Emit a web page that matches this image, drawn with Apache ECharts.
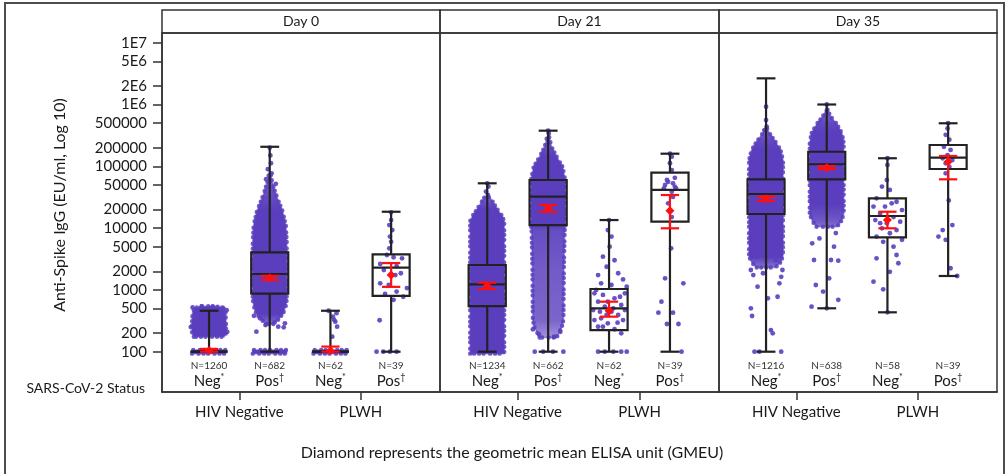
<!DOCTYPE html>
<html><head><meta charset="utf-8">
<script src="https://cdn.jsdelivr.net/npm/echarts@6/dist/echarts.min.js"></script>
<style>html,body{margin:0;padding:0;background:#fff}#c{width:1008px;height:474px}</style>
</head><body><div id="c"></div>
<script>
// ---------------- data ----------------
const days = ['Day 0', 'Day 21', 'Day 35'];
const hivGroups = ['HIV Negative', 'PLWH'];
const statusText = ['Neg', 'Pos', 'Neg', 'Pos'];
const statusMark = ['*', '\u2020', '*', '\u2020'];
const nDay0 = [1260, 682, 62, 39];
const nDay21 = [1234, 662, 62, 39];
const nDay35 = [1216, 638, 58, 39];

// [lower whisker, Q1, median, Q3, upper whisker]
const boxDay0 = [[100,100,100,100,460],[100,870,1810,4050,207000],[100,100,100,100,460],[100,800,2300,3750,18400]];
const boxDay21 = [[100,548,1233,2530,53100],[100,11200,32200,60000,377000],[100,224,504,1035,13500],[100,12700,41400,78800,160000]];
const boxDay35 = [[100,16900,35600,61600,2650000],[504,61600,108000,172000,1000000],[434,7100,15700,30300,135000],[1680,90400,138000,221000,497000]];

// [GMEU, 95% CI low, 95% CI high]
const gmDay0 = [[105,100,111],[1560,1440,1690],[104,100,121],[1740,1120,2720]];
const gmDay21 = [[1165,1035,1310],[20900,18400,23700],[460,369,645],[19100,9930,34300]];
const gmDay35 = [[29800,27500,32200],[94900,90000,101000],[13500,9930,18400],[118000,61600,147000]];

// dense point clouds: [value, relative spread, density]; null separates pieces
const cloudDay0 = [
  [[174,0.9,1],[200,1,1],[300,1,1],[430,0.97,1],[510,0.85,1],[545,0.4,1], null, [93,1,1],[107,1,1]],
  [[93,1,1],[107,1,1], null, [280,0.2,0.7],[330,0.5,0.85],[420,0.8,1],[560,0.95,1],[700,1,1],[6000,1,1],[11000,0.95,1],[19000,0.75,1],[28000,0.5,0.95],[40000,0.3,0.9],[55000,0.15,0.85],[75000,0.05,0.8]],
  [[93,1,1],[107,1,1]],
  []
];
const cloudDay21 = [
  [[93,1,1],[13000,1,1],[16000,0.85,1],[20000,0.6,1],[26000,0.35,0.9],[32000,0.15,0.8]],
  [[170,0.5,0.55],[250,0.8,0.7],[330,0.9,0.8],[2000,0.92,0.85],[9000,0.97,0.92],[11200,1,1],[60000,1,1],[98000,0.85,1],[143000,0.5,1],[207000,0.2,0.9],[300000,0.06,0.8]],
  [],
  []
];
const cloudDay35 = [
  [[2300,0.55,0.7],[2800,0.85,0.85],[3500,1,1],[126000,1,1],[184000,0.85,1],[250000,0.55,0.95],[342000,0.2,0.85],[420000,0.05,0.8]],
  [[10500,0.6,0.7],[13000,0.85,0.85],[17000,1,0.92],[25000,1,1],[236000,1,1],[342000,0.9,1],[500000,0.55,0.95],[630000,0.25,0.85],[800000,0.06,0.8]],
  [],
  []
];

// individual subjects: [jitter offset, value]
const ptsDay0 = [
  [[-0.27,520],[-0.12,540],[0.06,530],[0.22,515],[0.29,470],[-0.3,250],[0.3,210]],
  [[0,200000],[0.01,150000],[0.02,112000],[-0.03,90000],[0.03,77000],[-0.06,62000],[0.1,52000],[-0.22,211],[-0.07,270],[0.14,254],[0.25,288],[0.16,418],[-0.16,347],[0.23,248],[0.08,299],[-0.26,380]],
  [[-0.03,460],[0.04,370],[0.08,306],[0.11,254],[0.03,175],[0.1,420],[0.06,330]],
  [[0,18000],[0,13500],[-0.03,11200],[0.02,9300],[-0.02,7300],[0,6000],[-0.03,4700],[-0.07,3670],[0.04,3370],[0.18,3240],[-0.18,2630],[0.09,2430],[-0.12,2100],[0.16,1860],[0.07,1740],[-0.18,1280],[-0.04,1200],[0.26,1070],[0.09,940],[-0.1,860],[0.04,690],[0.2,775],[-0.19,323],[-0.24,100],[-0.13,100],[-0.02,100],[0.09,100]]
];
const ptsDay21 = [
  [[0,53000],[0.02,47000],[-0.02,39000],[0.01,34300]],
  [[0,377000],[0.01,340000],[-0.22,100],[-0.08,100],[0.08,100],[0.25,100],[-0.15,190],[0.1,175],[0.2,210],[-0.25,230]],
  [[0,13500],[0.01,5000],[0.09,3020],[-0.04,2370],[-0.18,1740],[0.23,1480],[-0.13,1280],[0.04,1200],[-0.21,1000],[0.26,880],[-0.1,830],[0.09,731],[-0.18,645],[0.2,570],[-0.07,535],[-0.26,473],[0.04,445],[0.15,393],[-0.13,347],[0.23,325],[-0.02,288],[-0.18,254],[0.09,231],[0.2,198],[-0.24,325],[0.29,1130],[0.15,1860],[-0.1,3450],[0.04,7300],[-0.02,9300],[-0.24,880],[0.18,775],[-0.02,645],[0.07,504],[-0.15,445],[0.26,473],[-0.04,393],[0.14,295],[-0.1,254],[-0.18,100],[-0.07,100],[0.07,100],[0.2,100],[0.29,100]],
  [[0,160000],[0.03,143000],[0,112000],[0.03,87000],[-0.05,60000],[0.08,65000],[-0.03,56000],[0.05,53000],[-0.08,49800],[0.08,47000],[-0.1,44000],[0.1,44000],[0.03,38800],[0.05,32000],[-0.03,25200],[0,19600],[0.03,15100],[0.02,4700],[-0.08,1540],[0.22,1280],[-0.14,645],[-0.19,428],[0.05,428],[-0.05,281],[0.14,281],[0.19,100]]
];
const ptsDay35 = [
  [[0,920000],[0,560000],[0.01,440000],[-0.01,390000],[-0.25,2100],[-0.21,1740],[-0.14,1130],[0.25,1630],[0.22,1280],[0.19,775],[-0.25,504],[-0.23,378],[0.03,730],[0.08,224],[0.11,198],[0.16,3000],[-0.16,3450],[0.27,2100],[-0.05,1860],[-0.19,100],[-0.11,100],[0.25,100]],
  [[0,1000000],[0.01,815000],[-0.24,5680],[-0.12,6800],[0.15,8300],[-0.21,3050],[0.07,3050],[0.19,2970],[-0.18,1200],[-0.06,940],[0.04,1540],[0.19,690],[-0.25,535],[0.12,5000],[0,504]],
  [[0,135000],[0,105000],[-0.01,60000],[-0.09,47000],[0.04,41400],[-0.18,30300],[0.15,26700],[-0.23,22300],[-0.04,22300],[0.24,19600],[-0.12,17300],[0.1,15100],[-0.2,13500],[0.21,12700],[-0.01,12000],[-0.09,9930],[0.15,9300],[0.04,8260],[-0.18,7300],[0.24,6450],[-0.07,6000],[0.1,5000],[-0.18,3240],[0.15,3670],[0.18,2700],[0.04,1960],[-0.23,1360],[-0.07,1020],[0,434],[0.07,25200],[-0.12,12000]],
  [[0,497000],[-0.01,410000],[-0.04,323000],[0.02,270000],[-0.07,207000],[0.04,184000],[-0.01,152000],[-0.09,135000],[0.07,126000],[-0.04,112000],[0.02,98000],[-0.04,77000],[0.01,28000],[0.07,11200],[-0.09,9300],[-0.16,7300],[-0.04,6450],[0.04,2240],[0.15,1680]]
];

const yTickValues = [100,200,500,1000,2000,5000,10000,20000,50000,100000,200000,500000,1e6,2e6,5e6,1e7];
const yTickLabels = ['100','200','500','1000','2000','5000','10000','20000','50000','100000','200000','500000','1E6','2E6','5E6','1E7'];

// ---------------- drawing ----------------
const FONT = 'Lato';
const TXT = '#1a1a1a';
const PURPLE_RGB = [90, 62, 190];
const PURPLE = 'rgb(90,62,190)';
const BOXC = '#222';
const RED = '#ff1010';
const JW = 0.28, BW = 0.305, CW = 0.155, RW = 0.15;
const L = Math.log10;
const YMIN = 1.348, YMAX = 7.157, XMIN = -0.775, XMAX = 3.805;
const panels = [{left:162,width:278},{left:440,width:279},{left:719,width:278}];
const TOP = 33, HEIGHT = 359;

const boxes = [boxDay0, boxDay21, boxDay35];
const gms = [gmDay0, gmDay21, gmDay35];
const clouds = [cloudDay0, cloudDay21, cloudDay35];
const pts = [ptsDay0, ptsDay21, ptsDay35];
const ns = [nDay0, nDay21, nDay35];

function shade(d) {
  const c = PURPLE_RGB.map(v => Math.round(v * d + 255 * (1 - d)));
  return 'rgb(' + c.join(',') + ')';
}
function cloudPieces(profiles) {
  const out = [];
  profiles.forEach((prof, g) => {
    let cur = [];
    prof.concat([null]).forEach(e => {
      if (e) cur.push([L(e[0]), e[1], e[2]]);
      else { if (cur.length > 1) out.push({g: g, rows: cur}); cur = []; }
    });
  });
  return out;
}
function makeCloudRenderer(pieces) {
  return function (params, api) {
    const piece = pieces[api.value(1)];
    const g = api.value(0);
    const rows = piece.rows;
    const left = rows.map(r => api.coord([g - r[1] * JW, r[0]]));
    const right = rows.map(r => api.coord([g + r[1] * JW, r[0]])).reverse();
    const yTop = left[left.length - 1][1], yBot = left[0][1];
    const span = Math.max(1, yBot - yTop);
    const stops = rows.map((r, k) => ({offset: Math.min(1, Math.max(0, (left[k][1] - yTop) / span)), color: shade(r[2])}));
    stops.sort((a, b) => a.offset - b.offset);
    const outline = left.concat(right);
    return {type: 'group', children: [
      {type: 'polygon', shape: {points: outline},
        style: {fill: {type: 'linear', x: 0, y: 0, x2: 0, y2: 1, colorStops: stops},
          stroke: 'rgba(90,62,190,0.45)', lineWidth: 1.6, lineJoin: 'round'}},
      {type: 'polygon', shape: {points: outline},
        style: {fill: null, stroke: 'rgba(90,62,190,0.85)', lineWidth: 4.4, lineCap: 'round', lineDash: [0, 5, 0, 6.5, 0, 4.5]}}
    ]};
  };
}
function seg(a, b, color, w) {
  return {type: 'line', shape: {x1: a[0], y1: a[1], x2: b[0], y2: b[1]}, style: {stroke: color, lineWidth: w, fill: null}};
}
function renderBox(params, api) {
  const g = api.value(0), lo = api.value(1), q1 = api.value(2), md = api.value(3), q3 = api.value(4), hi = api.value(5);
  const c = (x, y) => api.coord([x, y]);
  const tl = c(g - BW, q3), br = c(g + BW, q1);
  return {type: 'group', children: [
    seg(c(g, lo), c(g, q1), BOXC, 2.2),
    seg(c(g, q3), c(g, hi), BOXC, 2.2),
    seg(c(g - CW, lo), c(g + CW, lo), BOXC, 2.2),
    seg(c(g - CW, hi), c(g + CW, hi), BOXC, 2.2),
    {type: 'rect', shape: {x: tl[0], y: tl[1], width: br[0] - tl[0], height: br[1] - tl[1]}, style: {stroke: BOXC, lineWidth: 2.2, fill: null}},
    seg(c(g - BW, md), c(g + BW, md), BOXC, 2.2)
  ]};
}
function renderGM(params, api) {
  const g = api.value(0), m = api.value(1), lo = api.value(2), hi = api.value(3);
  const c = (x, y) => api.coord([x, y]);
  const p = c(g, m), r = 4.5;
  return {type: 'group', children: [
    seg(c(g, lo), c(g, hi), RED, 2.2),
    seg(c(g - RW, lo), c(g + RW, lo), RED, 2.2),
    seg(c(g - RW, hi), c(g + RW, hi), RED, 2.2),
    {type: 'polygon', shape: {points: [[p[0], p[1] - r], [p[0] + r, p[1]], [p[0], p[1] + r], [p[0] - r, p[1]]]}, style: {fill: RED}}
  ]};
}

const grids = [], xAxes = [], yAxes = [], series = [];
panels.forEach((pn, i) => {
  grids.push({left: pn.left, width: pn.width, top: TOP, height: HEIGHT, show: true, borderColor: '#333', borderWidth: 1.5, backgroundColor: 'transparent'});
  xAxes.push({
    type: 'value', gridIndex: i, min: XMIN, max: XMAX, position: 'bottom',
    splitLine: {show: false},
    axisLine: {show: true, onZero: false, lineStyle: {color: '#333', width: 1.5}},
    axisTick: {show: true, customValues: [0.5, 2.5], length: 8, lineStyle: {color: '#333', width: 1.5}},
    axisLabel: {show: true, customValues: [0.5, 2.5], margin: 13, fontFamily: FONT, fontSize: 15, color: TXT,
      formatter: v => hivGroups[v < 1.5 ? 0 : 1]}
  });
  xAxes.push({
    type: 'value', gridIndex: i, min: XMIN, max: XMAX, position: 'bottom',
    splitLine: {show: false}, axisLine: {show: false}, axisTick: {show: false},
    axisLabel: {show: true, inside: true, customValues: [0, 1, 2, 3], margin: 2,
      formatter: v => { const k = Math.round(v); return '{n|N=' + ns[i][k] + '}\n{g|' + statusText[k] + '}{s|' + statusMark[k] + '}'; },
      rich: {
        n: {fontFamily: FONT, fontSize: 10, lineHeight: 14, color: '#333'},
        g: {fontFamily: FONT, fontSize: 15, lineHeight: 17, color: TXT},
        s: {fontFamily: FONT, fontSize: 9, lineHeight: 9, verticalAlign: 'top', color: TXT}
      }}
  });
  yAxes.push({
    type: 'value', gridIndex: i, min: YMIN, max: YMAX, show: i === 0,
    splitLine: {show: false},
    axisLine: {show: true, onZero: false, lineStyle: {color: '#333', width: 1.5}},
    axisTick: {show: true, customValues: yTickValues.map(L), length: 9, lineStyle: {color: '#333', width: 1.5}},
    axisLabel: {show: true, customValues: yTickValues.map(L), margin: 15, fontFamily: FONT, fontSize: 15, color: TXT,
      formatter: v => { let best = 0; yTickValues.forEach((t, k) => { if (Math.abs(L(t) - v) < Math.abs(L(yTickValues[best]) - v)) best = k; }); return yTickLabels[best]; }}
  });
  const xa = i * 2, ya = i;
  const pieces = cloudPieces(clouds[i]);
  series.push({type: 'custom', xAxisIndex: xa, yAxisIndex: ya, z: 1, silent: true, renderItem: makeCloudRenderer(pieces),
    data: pieces.map((p, k) => [p.g, k])});
  const sp = [];
  pts[i].forEach((arr, g) => arr.forEach(p => sp.push([g + p[0], L(p[1])])));
  series.push({type: 'scatter', xAxisIndex: xa, yAxisIndex: ya, z: 2, silent: true, symbol: 'circle', symbolSize: 4.8,
    itemStyle: {color: PURPLE, opacity: 0.9}, data: sp});
  series.push({type: 'custom', xAxisIndex: xa, yAxisIndex: ya, z: 3, silent: true, renderItem: renderBox,
    encode: {x: 0, y: [1, 5]}, data: boxes[i].map((b, g) => [g].concat(b.map(L)))});
  series.push({type: 'custom', xAxisIndex: xa, yAxisIndex: ya, z: 4, silent: true, renderItem: renderGM,
    encode: {x: 0, y: [1, 3]}, data: gms[i].map((m, g) => [g].concat(m.map(L)))});
});

const graphic = [
  {type: 'rect', shape: {x: 5, y: 3, width: 999, height: 500}, style: {fill: null, stroke: '#4d4d4d', lineWidth: 2}, silent: true},
  {type: 'text', x: 60, y: 205, rotation: Math.PI / 2, style: {text: 'Anti-Spike IgG (EU/ml, Log 10)', align: 'center', verticalAlign: 'middle', font: '16px ' + FONT, fill: TXT}},
  {type: 'text', x: 145, y: 388, style: {text: 'SARS-CoV-2 Status', align: 'right', verticalAlign: 'middle', font: '14px ' + FONT, fill: TXT}},
  {type: 'text', x: 512, y: 453, style: {text: 'Diamond represents the geometric mean ELISA unit (GMEU)', align: 'center', verticalAlign: 'middle', font: '16px ' + FONT, fill: TXT}}
];
panels.forEach((pn, i) => {
  graphic.push({type: 'rect', shape: {x: pn.left, y: 10, width: pn.width, height: TOP - 10}, style: {fill: null, stroke: '#333', lineWidth: 1.5}, silent: true});
  graphic.push({type: 'text', x: pn.left + pn.width / 2, y: 21.5, style: {text: days[i], align: 'center', verticalAlign: 'middle', font: '14px ' + FONT, fill: TXT}});
});

const chart = echarts.init(document.getElementById('c'), null, {renderer: 'canvas'});
chart.setOption({
  animation: false,
  backgroundColor: '#fff',
  grid: grids, xAxis: xAxes, yAxis: yAxes, series: series, graphic: graphic
});
</script>
</body></html>
